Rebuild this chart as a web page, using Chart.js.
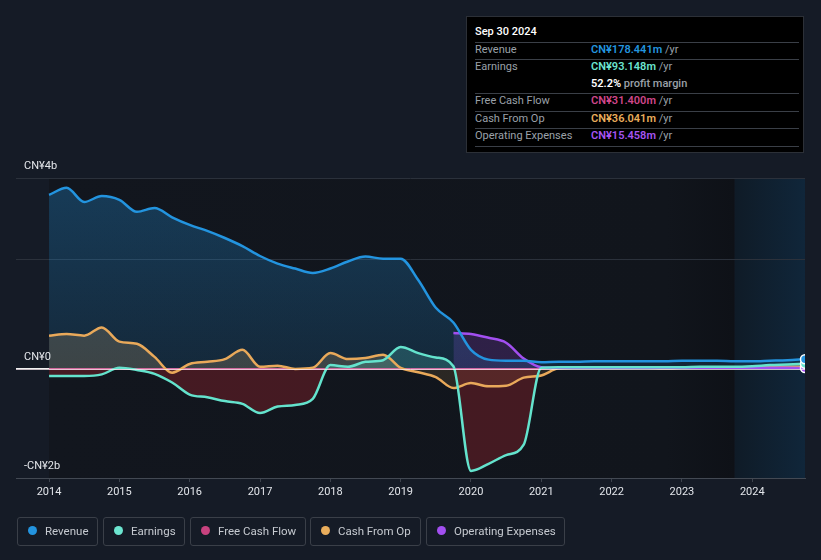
<!DOCTYPE html>
<html>
<head>
<meta charset="utf-8">
<script src="https://cdn.jsdelivr.net/npm/chart.js@4.4.1/dist/chart.umd.min.js"></script>
<style>
  html, body { margin:0; padding:0; background:#151b26; }
  body { width:821px; height:560px; position:relative; overflow:hidden; font-family:Roboto, "Noto Sans", sans-serif; }
  #wrap { position:absolute; left:0; top:0; width:821px; height:560px; }
  #tip { position:absolute; left:466px; top:16px; width:338px; height:137px; background:#000; border:1px solid #2c3037; box-sizing:border-box; }
  .t { position:absolute; font-size:11px; line-height:14px; white-space:nowrap; }
  .lab { color:#9ba1a9; }
  .val { font-weight:600; }
  .yr { color:#9ba1a9; font-weight:400; }
  .sep { position:absolute; left:8px; width:324px; height:1px; background:#3a3f47; }
  .lg { position:absolute; top:517px; height:29px; border:1px solid #3a3f48; border-radius:3px; box-sizing:border-box; }
  .lg .dot { position:absolute; left:10px; top:8px; width:9px; height:9px; border-radius:50%; }
  .lg .txt { position:absolute; left:27px; top:6px; font-size:11.5px; line-height:14px; color:#c6cad0; white-space:nowrap; }
</style>
</head>
<body>
<div id="wrap"><canvas id="c" width="821" height="560"></canvas></div>

<div id="tip">
  <div class="t" style="left:8px;top:8px;color:#fff;font-weight:500;">Sep 30 2024</div>
  <div class="sep" style="top:25px"></div>
  <div class="t lab" style="left:8px;top:26px;">Revenue</div>
  <div class="t val" style="left:124px;top:26px;color:#2394df;">CN¥178.441m <span class="yr">/yr</span></div>
  <div class="sep" style="top:42px"></div>
  <div class="t lab" style="left:8px;top:43px;">Earnings</div>
  <div class="t val" style="left:124px;top:43px;color:#6ce5d0;">CN¥93.148m <span class="yr">/yr</span></div>
  <div class="t val" style="left:124px;top:60px;color:#fff;">52.2% <span style="color:#9ba1a9;font-weight:500">profit margin</span></div>
  <div class="sep" style="top:76px"></div>
  <div class="t lab" style="left:8px;top:77px;">Free Cash Flow</div>
  <div class="t val" style="left:124px;top:77px;color:#d0468a;">CN¥31.400m <span class="yr">/yr</span></div>
  <div class="sep" style="top:94px"></div>
  <div class="t lab" style="left:8px;top:95px;">Cash From Op</div>
  <div class="t val" style="left:124px;top:95px;color:#e9ad5c;">CN¥36.041m <span class="yr">/yr</span></div>
  <div class="sep" style="top:111px"></div>
  <div class="t lab" style="left:8px;top:112px;">Operating Expenses</div>
  <div class="t val" style="left:124px;top:112px;color:#a654f2;">CN¥15.458m <span class="yr">/yr</span></div>
  <div class="sep" style="top:129px"></div>
</div>

<div class="lg" style="left:17px;width:81px;"><div class="dot" style="background:#2394df"></div><div class="txt">Revenue</div></div>
<div class="lg" style="left:103px;width:82px;"><div class="dot" style="background:#6ce5d0"></div><div class="txt">Earnings</div></div>
<div class="lg" style="left:190px;width:116px;"><div class="dot" style="background:#c8427f"></div><div class="txt">Free Cash Flow</div></div>
<div class="lg" style="left:310px;width:111px;"><div class="dot" style="background:#e9ad5c"></div><div class="txt">Cash From Op</div></div>
<div class="lg" style="left:426px;width:139px;"><div class="dot" style="background:#a24ff0"></div><div class="txt">Operating Expenses</div></div>

<script>
// Period ends (decimal years), quarterly
const periods = [
  2014.00, 2014.25, 2014.50, 2014.75, 2015.00, 2015.25, 2015.50, 2015.75,
  2016.00, 2016.25, 2016.50, 2016.75, 2017.00, 2017.25, 2017.50, 2017.75,
  2018.00, 2018.25, 2018.50, 2018.75, 2019.00, 2019.25, 2019.50, 2019.75,
  2020.00, 2020.25, 2020.50, 2020.75, 2021.00, 2021.25, 2021.50, 2021.75,
  2022.00, 2022.25, 2022.50, 2022.75, 2023.00, 2023.25, 2023.50, 2023.75,
  2024.00, 2024.25, 2024.50, 2024.75
];
// Values in CN¥ billions (trailing twelve months)
const revenue = [3.19,3.32,3.06,3.17,3.10,2.88,2.95,2.78,2.64,2.53,2.40,2.25,2.07,1.93,1.84,1.76,1.84,1.97,2.06,2.02,2.02,1.63,1.12,0.85,0.35,0.17,0.15,0.15,0.12,0.13,0.13,0.14,0.14,0.14,0.14,0.14,0.15,0.15,0.15,0.14,0.14,0.15,0.16,0.178];
const earnings = [-0.13,-0.13,-0.13,-0.10,0.02,-0.02,-0.09,-0.25,-0.47,-0.52,-0.59,-0.64,-0.81,-0.69,-0.66,-0.55,0.07,0.04,0.13,0.16,0.40,0.29,0.21,0.05,-1.87,-1.74,-1.58,-1.39,0.02,0.03,0.03,0.03,0.03,0.03,0.03,0.03,0.03,0.04,0.04,0.04,0.05,0.07,0.08,0.093];
const freeCashFlow = [0.00,0.00,0.00,0.00,0.00,0.00,0.00,0.00,0.00,0.00,0.00,0.00,0.00,0.00,0.00,0.00,0.00,0.00,0.00,0.00,0.00,0.00,0.00,0.00,0.00,0.00,0.00,0.00,0.00,0.01,0.01,0.01,0.01,0.01,0.01,0.01,0.01,0.02,0.02,0.02,0.02,0.03,0.03,0.031];
const cashFromOp = [0.61,0.64,0.61,0.76,0.50,0.46,0.22,-0.07,0.09,0.13,0.18,0.35,0.04,0.06,0.00,0.02,0.29,0.18,0.20,0.26,0.02,-0.06,-0.15,-0.35,-0.26,-0.32,-0.31,-0.16,-0.12,0.01,0.02,0.03,0.03,0.02,0.02,0.01,0.02,0.03,0.03,0.03,0.03,0.03,0.04,0.036];
const opex = [null,null,null,null,null,null,null,null,null,null,null,null,null,null,null,null,null,null,null,null,null,null,null,0.66,0.64,0.57,0.48,0.19,0.03,0.02,0.02,0.02,0.02,0.02,0.02,0.02,0.02,0.02,0.02,0.02,0.02,0.02,0.02,0.015];
const yearTicks = [2014,2015,2016,2017,2018,2019,2020,2021,2022,2023,2024];
const yLabels = [{v:3.5, t:'CN¥4b'}, {v:0, t:'CN¥0'}, {v:-2, t:'-CN¥2b'}];
const lastYearStart = 2023.75;

const toXY = arr => periods.map((p,i) => ({x:p, y: arr[i]}));
const lastIdx = periods.length - 1;

function ds(label, arr, color, fillAbove, fillBelow, bw) {
  return {
    label, data: toXY(arr), borderColor: color, borderWidth: bw || 2.5,
    fill: {target:'origin', above: fillAbove, below: fillBelow},
    cubicInterpolationMode: 'monotone', spanGaps: false,
    pointRadius: c => c.dataIndex === lastIdx ? 4.5 : 0,
    pointBackgroundColor: color, pointBorderColor: '#ffffff', pointBorderWidth: 1.5,
  };
}

const revGrad = (ctx) => {
  const chart = ctx.chart; const area = chart.chartArea;
  if (!area) return 'rgba(35,148,224,0.25)';
  const y0 = chart.scales.y.getPixelForValue(0);
  const g = chart.ctx.createLinearGradient(0, area.top, 0, y0);
  g.addColorStop(0, 'rgba(35,148,224,0.30)');
  g.addColorStop(1, 'rgba(35,148,224,0.15)');
  return g;
};

const bgPlugin = {
  id: 'bg',
  beforeDraw(chart) {
    const {ctx, chartArea: a, scales: {x}} = chart;
    const x0 = x.getPixelForValue(periods[0]);
    const xl = x.getPixelForValue(lastYearStart);
    ctx.save();
    const g = ctx.createLinearGradient(x0, 0, xl, 0);
    g.addColorStop(0, '#12161e');
    g.addColorStop(0.9, '#11151c');
    g.addColorStop(1, '#0e1117');
    ctx.fillStyle = g;
    ctx.fillRect(x0, a.top, xl - x0, a.bottom - a.top);
    const g2 = ctx.createLinearGradient(xl, 0, a.right, 0);
    g2.addColorStop(0, '#0f1b27');
    g2.addColorStop(1, '#10263a');
    ctx.fillStyle = g2;
    ctx.fillRect(xl, a.top, a.right - xl, a.bottom - a.top);
    ctx.restore();
  },
  afterDatasetsDraw(chart) {
    const {ctx, chartArea: a, scales: {y}} = chart;
    const y0 = Math.round(y.getPixelForValue(0)) + 0.5;
    ctx.save();
    ctx.strokeStyle = 'rgba(255,240,245,0.75)';
    ctx.lineWidth = 1;
    ctx.beginPath(); ctx.moveTo(a.left, y0); ctx.lineTo(a.right, y0); ctx.stroke();
    ctx.restore();
  },
  afterDraw(chart) {
    const {ctx, scales: {y}} = chart;
    ctx.save();
    ctx.font = '11px Roboto, sans-serif';
    ctx.fillStyle = '#e4e7eb';
    ctx.textBaseline = 'middle';
    ctx.textAlign = 'left';
    yLabels.forEach(l => ctx.fillText(l.t, 24, y.getPixelForValue(l.v) - 12));
    ctx.restore();
  }
};

new Chart(document.getElementById('c'), {
  type: 'line',
  data: {
    datasets: [
      ds('Revenue', revenue, '#2394df', revGrad, revGrad, 2.5),
      ds('Earnings', earnings, '#64e3cd', 'rgba(95,224,201,0.22)', 'rgba(200,40,50,0.28)', 2.5),
      ds('Operating Expenses', opex, '#a24ff0', 'rgba(166,79,240,0.20)', 'rgba(166,79,240,0.20)', 2.5),
      ds('Cash From Op', cashFromOp, '#e9a95a', 'rgba(233,169,90,0.22)', 'rgba(233,169,90,0.12)', 2.5),
      ds('Free Cash Flow', freeCashFlow, '#d0468a', 'rgba(208,70,138,0.15)', 'rgba(208,70,138,0.15)', 1.5),
    ]
  },
  options: {
    responsive: false, animation: false, events: [],
    layout: { padding: { top: 178, left: 16, right: 16, bottom: 0 } },
    plugins: { legend: {display:false}, tooltip: {enabled:false}, filler: { drawTime: 'beforeDatasetsDraw' } },
    scales: {
      x: {
        type: 'linear', min: 2013.53, max: 2024.75,
        afterBuildTicks: s => { s.ticks = yearTicks.map(v => ({value: v})); },
        afterFit: s => { s.height = 82; },
        grid: { drawOnChartArea: false, drawTicks: true, tickLength: 4, color: '#3c424c' },
        border: { display: true, color: '#434953', width: 1 },
        ticks: { color: '#e2e5ea', font: {family: 'Roboto', size: 11}, padding: 4, callback: v => String(v), maxRotation: 0 }
      },
      y: {
        min: -2, max: 3.5,
        afterBuildTicks: s => { s.ticks = [-2, 0, 2, 3.5].map(v => ({value: v})); },
        afterFit: s => { s.width = 0; },
        ticks: { display: false },
        border: { display: false },
        grid: {
          drawTicks: false,
          color: c => c.tick.value === 0 ? '#f2f2f2' : (c.tick.value === -2 ? 'rgba(0,0,0,0)' : '#2b313b'),
          lineWidth: 1
        }
      }
    }
  },
  plugins: [bgPlugin]
});
</script>
</body>
</html>
